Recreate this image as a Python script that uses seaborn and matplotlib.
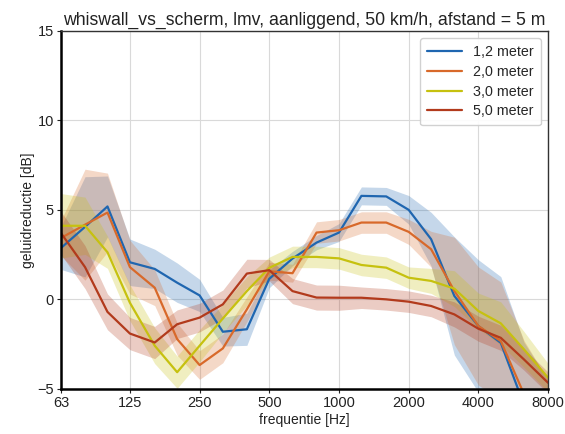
import numpy as np
import pandas as pd
import matplotlib
matplotlib.use("Agg")
import matplotlib.pyplot as plt
import seaborn as sns

# Third-octave band centre frequencies [Hz]
freqs = [63, 80, 100, 125, 160, 200, 250, 315, 400, 500, 630, 800,
         1000, 1250, 1600, 2000, 2500, 3150, 4000, 5000, 6300, 8000]

series_names = ["1,2 meter", "2,0 meter", "3,0 meter", "5,0 meter"]

# Mean noise reduction per band [dB]
red_1_2 = [2.87, 4.05, 5.19, 2.07, 1.70, 0.93, 0.22, -1.81, -1.67, 1.15, 2.28,
           3.17, 3.73, 5.78, 5.75, 5.00, 3.36, 0.19, -1.49, -2.43, -5.90, -8.00]
red_2_0 = [3.43, 4.17, 4.85, 1.80, 0.65, -2.22, -3.67, -2.74, -0.56, 1.57, 1.46,
           3.73, 3.86, 4.29, 4.29, 3.77, 2.80, 0.47, -1.49, -2.33, -5.30, -7.50]
red_3_0 = [4.11, 4.11, 2.63, -0.19, -2.59, -4.07, -2.59, -1.07, 0.46, 1.76, 2.37,
           2.37, 2.29, 1.92, 1.77, 1.21, 1.03, 0.60, -0.65, -1.34, -2.80, -4.38]
red_5_0 = [3.70, 1.80, -0.70, -1.91, -2.41, -1.39, -1.02, -0.28, 1.44, 1.63, 0.46,
           0.10, 0.09, 0.09, 0.00, -0.13, -0.37, -0.84, -1.64, -2.15, -3.36, -4.66]

# Half-width of the spread band per band [dB]
spread_1_2 = [1.2, 2.8, 1.7, 1.3, 1.1, 1.1, 0.9, 0.8, 0.9, 0.5, 0.4, 0.4,
              0.5, 0.5, 0.5, 0.8, 1.5, 3.3, 3.7, 3.7, 3.5, 3.5]
spread_2_0 = [1.0, 3.1, 2.2, 1.5, 1.0, 0.9, 0.8, 0.8, 0.7, 0.5, 0.5, 0.6,
              0.6, 0.6, 0.6, 0.7, 1.0, 3.0, 3.3, 3.3, 3.0, 3.0]
spread_3_0 = [1.8, 1.6, 0.9, 1.0, 1.0, 0.9, 0.9, 0.8, 0.8, 0.6, 0.6, 0.6,
              0.6, 0.6, 0.6, 0.6, 0.7, 1.0, 1.0, 1.2, 1.0, 0.8]
spread_5_0 = [1.2, 1.2, 1.0, 0.9, 0.9, 0.8, 0.8, 0.8, 0.8, 0.6, 0.7, 0.7,
              0.7, 0.6, 0.6, 0.6, 0.6, 0.7, 0.7, 0.7, 0.6, 0.6]

xtick_values = [63, 125, 250, 500, 1000, 2000, 4000, 8000]
ytick_values = [-5, 0, 5, 10, 15]

colors = ["#1f66b0", "#d8692a", "#c6c10f", "#b23a1c"]

means = [red_1_2, red_2_0, red_3_0, red_5_0]
spreads = [spread_1_2, spread_2_0, spread_3_0, spread_5_0]

df = pd.concat(
    [pd.DataFrame({"freq": freqs, "dB": m, "lo": np.array(m) - np.array(s),
                   "hi": np.array(m) + np.array(s), "serie": n})
     for n, m, s in zip(series_names, means, spreads)],
    ignore_index=True)

sns.set_theme(style="whitegrid")
plt.rcParams["font.family"] = ["Liberation Sans", "DejaVu Sans"]

fig = plt.figure(figsize=(5.65, 4.34), dpi=100)
ax = fig.add_axes([0.108, 0.104, 0.862, 0.825])

palette = dict(zip(series_names, colors))
for name in series_names:
    sub = df[df["serie"] == name]
    ax.fill_between(sub["freq"], sub["lo"], sub["hi"], color=palette[name],
                    alpha=0.26, linewidth=0)

sns.lineplot(data=df, x="freq", y="dB", hue="serie", palette=palette,
             linewidth=1.6, ax=ax, errorbar=None)

ax.set_xscale("log", base=2)
ax.set_xlim(63, 8000)
ax.set_ylim(-5, 15)
ax.set_xticks(xtick_values)
ax.set_xticklabels([str(v) for v in xtick_values])
ax.xaxis.set_minor_locator(matplotlib.ticker.NullLocator())
ax.set_yticks(ytick_values)

ax.grid(True, color="#d9d9d9", linewidth=0.8)
ax.set_facecolor("white")
for side in ["left", "bottom"]:
    ax.spines[side].set_color("black")
    ax.spines[side].set_linewidth(1.8)
for side in ["top", "right"]:
    ax.spines[side].set_color("#333333")
    ax.spines[side].set_linewidth(1.0)

ax.tick_params(axis="both", labelsize=10.5, colors="#222222", length=3,
               width=0.8, pad=2, left=True, bottom=True)
ax.set_xlabel("frequentie [Hz]", fontsize=10, labelpad=2, color="#222222")
ax.set_ylabel("geluidreductie [dB]", fontsize=10, labelpad=2, color="#222222")
ax.set_title("whiswall_vs_scherm, lmv, aanliggend, 50 km/h, afstand = 5 m",
             fontsize=12.7, pad=4, color="#222222")

leg = ax.legend(loc="upper right", fontsize=10.3, frameon=True, handlelength=2.4,
                borderpad=0.5, labelspacing=0.4, title=None)
leg.get_frame().set_edgecolor("#cccccc")
leg.get_frame().set_alpha(0.9)

fig.savefig("out.png", dpi=100)
